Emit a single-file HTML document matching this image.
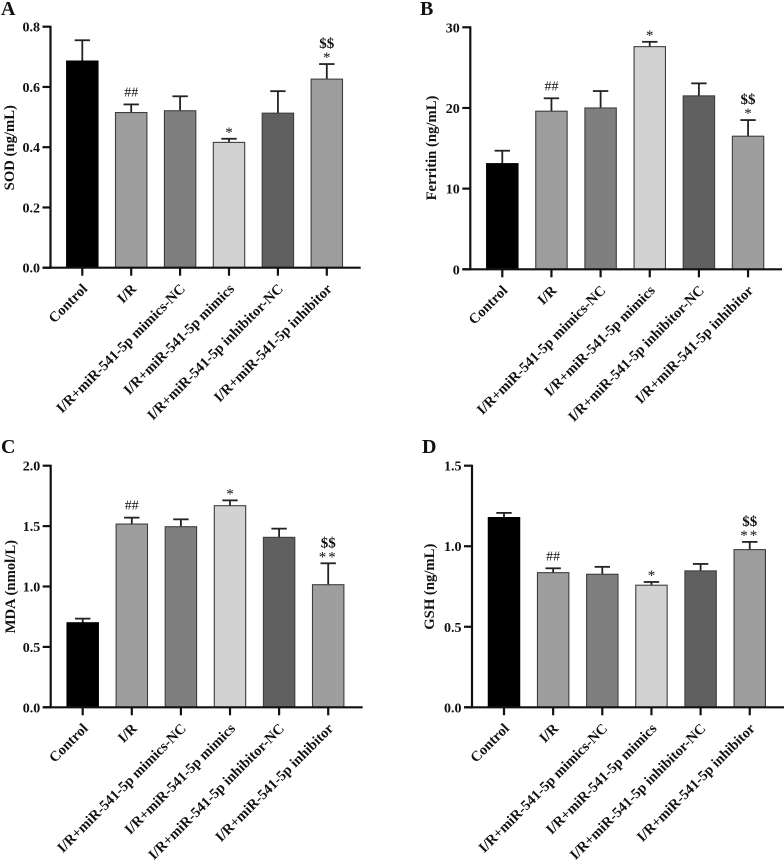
<!DOCTYPE html>
<html>
<head>
<meta charset="utf-8">
<style>
html,body{margin:0;padding:0;background:#fff;}
svg{display:block;font-family:"Liberation Serif",serif;}
text{fill:#111;}
.tick{font-size:14px;font-weight:bold;}
.title{font-size:14.7px;font-weight:bold;}
.cat{font-size:14.5px;font-weight:bold;}
.letter{font-size:20px;font-weight:bold;}
</style>
</head>
<body>
<svg id="fig" width="784" height="862" viewBox="0 0 784 862" xmlns="http://www.w3.org/2000/svg"></svg>
<script>
const categories = ["Control","I/R","I/R+miR-541-5p mimics-NC","I/R+miR-541-5p mimics","I/R+miR-541-5p inhibitor-NC","I/R+miR-541-5p inhibitor"];
const barColors = ["#000000","#9e9e9e","#7f7f7f","#d2d2d2","#606060","#9e9e9e"];

const sodValues = [0.686,0.515,0.521,0.416,0.513,0.626];
const sodErrorTops = [0.755,0.542,0.569,0.428,0.586,0.676];
const sodTicks = ["0.0","0.2","0.4","0.6","0.8"];
const sodMarks = ["","##","","*","","$$|*"];

const ferritinValues = [13.1,19.6,20.0,27.6,21.5,16.5];
const ferritinErrorTops = [14.7,21.2,22.1,28.2,23.05,18.5];
const ferritinTicks = ["0","10","20","30"];
const ferritinMarks = ["","##","","*","","$$|*"];

const mdaValues = [0.70,1.517,1.495,1.669,1.407,1.015];
const mdaErrorTops = [0.734,1.57,1.556,1.713,1.479,1.192];
const mdaTicks = ["0.0","0.5","1.0","1.5","2.0"];
const mdaMarks = ["","##","","*","","$$|**"];

const gshValues = [1.178,0.836,0.826,0.758,0.847,0.979];
const gshErrorTops = [1.207,0.863,0.872,0.778,0.89,1.027];
const gshTicks = ["0.0","0.5","1.0","1.5"];
const gshMarks = ["","##","","*","","$$|**"];

const panels = [
  {key:"a",letter:"A",lx:1,ly:15,title:"SOD (ng/mL)",tx:14,tcy:147.7,ax:50.5,y0:267.7,yTop:26.7,max:0.8,x0:82.3,step:48.9,end:360.7,vals:sodValues,errs:sodErrorTops,ticks:sodTicks,marks:sodMarks},
  {key:"b",letter:"B",lx:420,ly:15,title:"Ferritin (ng/mL)",tx:436,tcy:148,ax:470.3,y0:269.3,yTop:27.3,max:30,x0:502.3,step:49.15,end:782,vals:ferritinValues,errs:ferritinErrorTops,ticks:ferritinTicks,marks:ferritinMarks},
  {key:"c",letter:"C",lx:1,ly:453,title:"MDA (nmol/L)",tx:15,tcy:586.7,ax:50.7,y0:707.3,yTop:465.7,max:2,x0:82.7,step:49.1,end:362.7,vals:mdaValues,errs:mdaErrorTops,ticks:mdaTicks,marks:mdaMarks},
  {key:"d",letter:"D",lx:422,ly:453,title:"GSH (ng/mL)",tx:434,tcy:586.7,ax:472,y0:707.3,yTop:465.7,max:1.5,x0:504,step:49.15,end:784,vals:gshValues,errs:gshErrorTops,ticks:gshTicks,marks:gshMarks}
];

const NS = "http://www.w3.org/2000/svg";
const svg = document.getElementById("fig");

function make(tag, attrs, parent, txt){
  const el = document.createElementNS(NS, tag);
  for (const k in attrs) el.setAttribute(k, attrs[k]);
  if (txt !== undefined) el.textContent = txt;
  parent.appendChild(el);
  return el;
}

panels.forEach(function(p){
  const yScale = function(v){ return p.y0 - (v / p.max) * (p.y0 - p.yTop); };
  const xScale = function(i){ return p.x0 + i * p.step; };
  const g = make("g", {}, svg);
  
  

  const letter = make("text", {x:p.lx, y:p.ly, "class":"letter"}, g, p.letter);
  
  

  const title = make("text", {x:p.tx, y:p.tcy, "class":"title", "text-anchor":"middle",
    transform:"rotate(-90 " + p.tx + " " + p.tcy + ")"}, g, p.title);
  
  

  categories.forEach(function(c, i){
    const cx = xScale(i), top = yScale(p.vals[i]), et = yScale(p.errs[i]);
    const stem = make("line", {x1:cx, x2:cx, y1:top, y2:et, stroke:"#222", "stroke-width":1.8}, g);
    
    
    const cap = make("line", {x1:cx-7.7, x2:cx+7.7, y1:et, y2:et, stroke:"#222", "stroke-width":1.8}, g);
    
    
    const bar = make("rect", {x:cx-15.7, y:top, width:31.4, height:p.y0-top, fill:barColors[i],
      stroke:i === 0 ? "#000" : "#3e3e3e", "stroke-width":1.1}, g);
    
    

    const tick = make("line", {x1:cx, x2:cx, y1:p.y0, y2:p.y0+8, stroke:"#111", "stroke-width":2.2}, g);
    
    

    const lx = cx + 6, ly = p.y0 + 22;
    const lab = make("text", {x:lx, y:ly, "class":"cat", "text-anchor":"end",
      transform:"rotate(-45 " + lx + " " + ly + ")"}, g, c);
    
    

    if (p.marks[i]) {
      const rows = p.marks[i].split("|").reverse();
      rows.forEach(function(m, r){
        let cls = {"text-anchor":"middle", x:cx};
        if (m === "##") { cls["font-size"] = 14; cls.y = et - 8; }
        else if (m === "$$") { cls["font-size"] = 15; cls["font-weight"] = "bold"; cls.y = et - 16; }
        else if (m === "**") { cls["font-size"] = 15; cls["letter-spacing"] = 2; cls.y = et - 2; }
        else { cls["font-size"] = 15; cls.y = et - 2; }
        const t = make("text", cls, g, m);
        
        
      });
    }
  });

  const yAxis = make("line", {x1:p.ax, x2:p.ax, y1:p.yTop-1, y2:p.y0+1, stroke:"#111", "stroke-width":2.2}, g);
  
  
  const xAxis = make("line", {x1:p.ax-8, x2:p.end, y1:p.y0, y2:p.y0, stroke:"#111", "stroke-width":2.2}, g);
  
  

  p.ticks.forEach(function(tk){
    const y = yScale(parseFloat(tk));
    const tl = make("line", {x1:p.ax-8, x2:p.ax, y1:y, y2:y, stroke:"#111", "stroke-width":2.2}, g);
    
    
    const tt = make("text", {x:p.ax-10.5, y:y+5, "class":"tick", "text-anchor":"end"}, g, tk);
    
    
  });
});
</script>
</body>
</html>
